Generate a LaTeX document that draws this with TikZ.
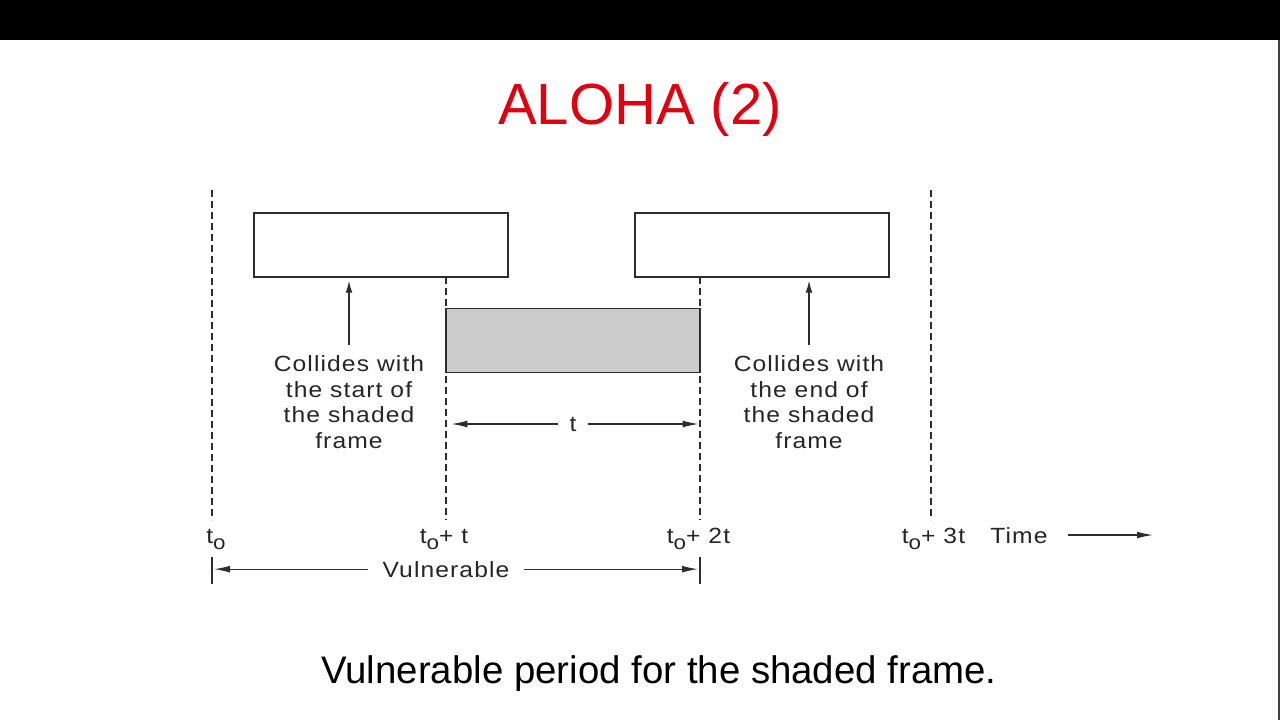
\documentclass[tikz,border=0pt]{standalone}
\usepackage{fontspec}
\setmainfont{Liberation Sans}
\newfontfamily\diafont[FakeStretch=1.12,LetterSpace=5]{Liberation Sans}
\usetikzlibrary{arrows.meta, positioning}
\definecolor{titlered}{RGB}{224,0,16}
\definecolor{linegray}{RGB}{45,45,45}
\definecolor{shadegray}{RGB}{204,204,204}
\newcommand{\tzero}{t\raisebox{-0.55ex}{\fontsize{10}{10}\selectfont o}}

\begin{document}
\begin{tikzpicture}[
  x=0.5pt, y=-0.5pt,
  framebox/.style={rectangle, draw=linegray, line width=0.65pt, fill=white,
                   minimum width=127pt, minimum height=32pt, inner sep=0pt},
  shadebox/.style={framebox, fill=shadegray},
  timeline/.style={draw=linegray, line width=0.65pt, dash pattern=on 3.5pt off 2pt},
  tickline/.style={draw=linegray, line width=0.65pt},
  arrow/.style={-{Latex[length=6pt,width=3.4pt]}, draw=linegray, line width=0.65pt},
  longarrow/.style={-{Latex[length=8pt,width=3.4pt]}, draw=linegray, line width=0.65pt},
  note/.style={font=\diafont\fontsize{11}{12.9}\selectfont, text=black!85,
               align=center, inner sep=0pt},
  marklabel/.style={note, anchor=base},
]

% ---- slide ----
\useasboundingbox (0,0) rectangle (1280,720);
\fill[white] (0,0) rectangle (1280,720);
\fill[black] (0,0) rectangle (1280,40);
\draw[black!75, line width=1pt] (1278.5,40) -- (1278.5,720);

\node[font=\fontsize{29}{34}\selectfont, text=titlered, anchor=base] (title) at (640,124) {ALOHA (2)};
\node[font=\fontsize{19.2}{23}\selectfont, anchor=base] (caption) at (659,683) {Vulnerable period for the shaded frame.};

% ---- frames ----
\node[framebox] (frameA) at (381,245) {};
\node[framebox] (frameB) at (762,245) {};

% ---- time marks ----
\draw[timeline] (212,190) -- (212,520);
\draw[timeline] (446,277) -- (446,520);
\draw[timeline] (700,277) -- (700,520);
\draw[timeline] (931,190) -- (931,520);

\node[shadebox] (shaded) at (573,340.5) {};

\node[marklabel] (m0) at (216,543) {\tzero};
\node[marklabel] (m1) at (444,543) {\tzero+ t};
\node[marklabel] (m2) at (698.5,543) {\tzero+ 2t};
\node[marklabel] (m3) at (933.5,543) {\tzero+ 3t};
\node[marklabel] (time) at (1019,543) {Time};

\coordinate (timeA) at (1068,535);
\coordinate (timeB) at (1153,535);
\draw[longarrow] (timeA) -- (timeB);

% ---- notes ----
\node[note, anchor=north] (startnote) at (349,355) {Collides with\\the start of\\the shaded\\frame};
\node[note, anchor=north] (endnote) at (809,355) {Collides with\\the end of\\the shaded\\frame};

\draw[arrow, shorten <=5pt, shorten >=1.5pt] (startnote.north) -- (startnote.north |- frameA.south);
\draw[arrow, shorten <=5pt, shorten >=1.5pt] (endnote.north) -- (endnote.north |- frameB.south);

% ---- lengths ----
\node[note, inner xsep=5.5pt] (tlen) at (573,424) {t};
\draw[longarrow, shorten >=3pt] (tlen.west) -- (tlen.west -| shaded.west);
\draw[longarrow, shorten >=1pt] (tlen.east) -- (tlen.east -| shaded.east);

\coordinate (tickA) at (212,570);
\coordinate (tickB) at (700,570);
\draw[tickline] (212,557) -- (212,584);
\draw[tickline] (700,557) -- (700,584);

\node[note, anchor=base, inner xsep=7pt] (vuln) at (446,577) {Vulnerable};
\draw[longarrow, shorten >=1pt] (vuln.west) -- (vuln.west -| tickA);
\draw[longarrow, shorten >=1pt] (vuln.east) -- (vuln.east -| tickB);

\end{tikzpicture}
\end{document}
